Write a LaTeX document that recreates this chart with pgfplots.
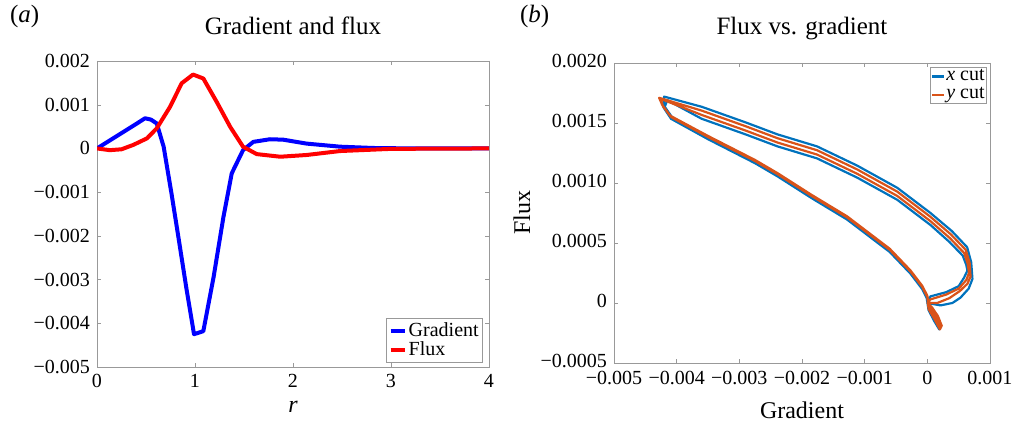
\documentclass[border=0pt]{standalone}
\usepackage{pgfplots}
\pgfplotsset{compat=1.18}
\usepackage{fontspec}
\setmainfont{Liberation Serif}
\definecolor{mblue}{rgb}{0,0.447,0.741}
\definecolor{morange}{rgb}{0.85,0.325,0.098}
\definecolor{frame}{gray}{0.6}
\begin{document}
\begin{tikzpicture}
\useasboundingbox (0,0) rectangle (511.5pt,213pt);
\pgfplotsset{
  every axis/.append style={
    scale only axis,
    scaled ticks=false,
    axis line style={frame},
    tick style={frame},
    major tick length=2pt,
    tick align=inside,
    tick label style={font=\normalsize},
    label style={font=\fontsize{12}{14}\selectfont},
    title style={font=\fontsize{12.5}{14}\selectfont, anchor=base, at={(axis description cs:0.5,1)}},
    legend cell align=left,
  },
}
\node[anchor=base west, font=\fontsize{12.5}{14}\selectfont] at (1.5pt,201.5pt) {(\textit{a})};
\node[anchor=base west, font=\fontsize{12.5}{14}\selectfont] at (256.5pt,201.5pt) {(\textit{b})};
% Left panel
\begin{axis}[
  at={(48.5pt,29.5pt)}, anchor=south west,
  width=196pt, height=153pt,
  xmin=0, xmax=4, ymin=-0.005, ymax=0.002,
  xtick={0,1,2,3,4}, xticklabels={0,1,2,3,4},
  ytick={-0.005,-0.004,-0.003,-0.002,-0.001,0,0.001,0.002},
  yticklabels={−0.005,−0.004,−0.003,−0.002,−0.001,0,0.001,0.002},
  title={Gradient and flux}, title style={yshift=7.2pt},
  xlabel={\textit{r}},
  xlabel style={at={(axis description cs:0.5,-0.15)}, anchor=base},
  legend style={at={(0.985,0.013)}, anchor=south east, draw=frame,
    font=\normalsize, inner sep=1pt, row sep=-1pt,
    nodes={inner sep=1pt}},
  legend image code/.code={\draw[#1] (0pt,0pt) -- (7pt,0pt);},
]
\addplot[blue, line width=2pt, line join=round] coordinates {
(0,0) (0.1,0.14e-3) (0.2,0.28e-3) (0.3,0.42e-3) (0.4,0.56e-3) (0.49,0.69e-3)
(0.55,0.66e-3) (0.61,0.57e-3) (0.68,0.04e-3) (0.76,-1.03e-3) (0.83,-2.02e-3)
(0.915,-3.24e-3) (0.99,-4.25e-3) (1.085,-4.18e-3) (1.19,-2.94e-3) (1.29,-1.57e-3)
(1.375,-0.57e-3) (1.49,-0.04e-3) (1.595,0.15e-3) (1.765,0.21e-3) (1.9,0.2e-3)
(2.14,0.11e-3) (2.48,0.04e-3) (2.82,0.01e-3) (3.2,0) (4,0)};
\addlegendentry{Gradient}
\addplot[red, line width=2pt, line join=round] coordinates {
(0,0) (0.13,-0.04e-3) (0.25,-0.02e-3) (0.37,0.08e-3) (0.51,0.23e-3) (0.61,0.46e-3)
(0.745,0.95e-3) (0.864,1.49e-3) (0.98,1.69e-3) (1.085,1.60e-3) (1.22,1.07e-3)
(1.36,0.49e-3) (1.49,0.04e-3) (1.63,-0.13e-3) (1.87,-0.19e-3) (2.14,-0.15e-3)
(2.48,-0.06e-3) (3.0,-0.01e-3) (4,0)};
\addlegendentry{Flux}
\end{axis}
% Right panel
\begin{axis}[
  at={(307pt,31.5pt)}, anchor=south west,
  width=188pt, height=150pt,
  xmin=-0.005, xmax=0.001, ymin=-0.0005, ymax=0.002,
  xtick={-0.005,-0.004,-0.003,-0.002,-0.001,0,0.001},
  xticklabels={−0.005,−0.004,−0.003,−0.002,−0.001,0,0.001},
  ytick={-0.0005,0,0.0005,0.001,0.0015,0.002},
  yticklabels={−0.0005,0,0.0005,0.0010,0.0015,0.0020},
  yticklabel style={yshift=1pt},
  xticklabel style={yshift=-0.5pt},
  title={Flux vs. gradient}, title style={yshift=8.2pt},
  xlabel={Gradient},
  xlabel style={at={(axis description cs:0.5,-0.157)}, anchor=center},
  ylabel={Flux},
  ylabel style={at={(axis description cs:-0.245,0.5)}, anchor=center, rotate=0},
  legend style={at={(0.992,0.987)}, anchor=north east, draw=frame,
    font=\normalsize, inner sep=0.5pt, row sep=1pt,
    nodes={inner sep=0.5pt}},
  legend image code/.code={\draw[#1, line width=1.1pt] (0pt,0pt) -- (6pt,0pt);},
]
\addplot[mblue, line width=1.1pt, line join=round] coordinates {
(0,0) (0.21e-3,-0.02e-3) (0.40e-3,0) (0.53e-3,0.045e-3) (0.66e-3,0.12e-3) (0.72e-3,0.20e-3)
(0.70e-3,0.34e-3) (0.635e-3,0.465e-3) (0.39e-3,0.60e-3) (0.05e-3,0.75e-3) (-0.48e-3,0.96e-3)
(-1.12e-3,1.145e-3) (-1.76e-3,1.305e-3) (-2.39e-3,1.405e-3) (-2.9e-3,1.505e-3) (-3.6e-3,1.635e-3)
(-4.2e-3,1.72e-3)
(-4.21e-3,1.63e-3) (-4.09e-3,1.535e-3) (-3.5e-3,1.365e-3) (-2.75e-3,1.165e-3) (-2.39e-3,1.055e-3)
(-1.85e-3,0.875e-3) (-1.28e-3,0.695e-3) (-0.6e-3,0.425e-3) (-0.27e-3,0.245e-3) (-0.08e-3,0.115e-3)
(-0.01e-3,0.04e-3)
(0.02e-3,-0.06e-3) (0.11e-3,-0.15e-3) (0.19e-3,-0.22e-3) (0.21e-3,-0.2e-3) (0.15e-3,-0.13e-3)
(0.07e-3,-0.06e-3) (0,0)
(0.05e-3,0.055e-3) (0.3e-3,0.09e-3) (0.5e-3,0.14e-3) (0.585e-3,0.21e-3) (0.64e-3,0.27e-3)
(0.62e-3,0.32e-3) (0.565e-3,0.395e-3) (0.35e-3,0.51e-3) (0.05e-3,0.65e-3) (-0.48e-3,0.86e-3)
(-1.12e-3,1.045e-3) (-1.76e-3,1.205e-3) (-2.39e-3,1.305e-3) (-2.9e-3,1.405e-3) (-3.6e-3,1.535e-3)
(-4.15e-3,1.69e-3)
(-4.19e-3,1.635e-3) (-4.07e-3,1.545e-3) (-3.5e-3,1.375e-3) (-2.75e-3,1.175e-3) (-2.39e-3,1.065e-3)
(-1.85e-3,0.885e-3) (-1.28e-3,0.705e-3) (-0.6e-3,0.435e-3) (-0.27e-3,0.255e-3) (-0.08e-3,0.125e-3)
(0,0.045e-3)
(0.03e-3,-0.05e-3) (0.12e-3,-0.14e-3) (0.2e-3,-0.21e-3) (0.22e-3,-0.19e-3) (0.16e-3,-0.12e-3)
(0.08e-3,-0.05e-3) (0,0)};
\addlegendentry{\textit{x} cut}
\addplot[morange, line width=1.1pt, line join=round] coordinates {
(0,0) (0.16e-3,0) (0.35e-3,0.04e-3) (0.52e-3,0.1e-3) (0.64e-3,0.16e-3) (0.69e-3,0.22e-3)
(0.675e-3,0.335e-3) (0.613e-3,0.443e-3) (0.377e-3,0.571e-3) (0.05e-3,0.718e-3) (-0.48e-3,0.928e-3)
(-1.12e-3,1.113e-3) (-1.76e-3,1.273e-3) (-2.39e-3,1.373e-3) (-2.9e-3,1.473e-3) (-3.6e-3,1.603e-3)
(-4.28e-3,1.71e-3)
(-4.23e-3,1.65e-3) (-4.1e-3,1.56e-3) (-3.5e-3,1.392e-3) (-2.75e-3,1.192e-3) (-2.39e-3,1.082e-3)
(-1.85e-3,0.902e-3) (-1.28e-3,0.722e-3) (-0.6e-3,0.452e-3) (-0.27e-3,0.272e-3) (-0.08e-3,0.142e-3)
(0,0.06e-3)
(0.03e-3,-0.04e-3) (0.13e-3,-0.13e-3) (0.21e-3,-0.21e-3) (0.23e-3,-0.19e-3) (0.17e-3,-0.11e-3)
(0.08e-3,-0.04e-3) (0,0)
(0.05e-3,0.03e-3) (0.3e-3,0.07e-3) (0.5e-3,0.12e-3) (0.62e-3,0.19e-3) (0.665e-3,0.25e-3)
(0.645e-3,0.325e-3) (0.587e-3,0.417e-3) (0.363e-3,0.539e-3) (0.05e-3,0.682e-3) (-0.48e-3,0.892e-3)
(-1.12e-3,1.077e-3) (-1.76e-3,1.237e-3) (-2.39e-3,1.337e-3) (-2.9e-3,1.437e-3) (-3.6e-3,1.567e-3)
(-4.25e-3,1.70e-3)
(-4.22e-3,1.64e-3) (-4.09e-3,1.55e-3) (-3.5e-3,1.383e-3) (-2.75e-3,1.183e-3) (-2.39e-3,1.073e-3)
(-1.85e-3,0.893e-3) (-1.28e-3,0.713e-3) (-0.6e-3,0.443e-3) (-0.27e-3,0.263e-3) (-0.08e-3,0.133e-3)
(0,0.05e-3)
(0.02e-3,-0.05e-3) (0.12e-3,-0.14e-3) (0.2e-3,-0.22e-3) (0.22e-3,-0.2e-3) (0.16e-3,-0.12e-3)
(0.07e-3,-0.05e-3) (0,0)};
\addlegendentry{\textit{y} cut}
\end{axis}
\end{tikzpicture}
\end{document}
